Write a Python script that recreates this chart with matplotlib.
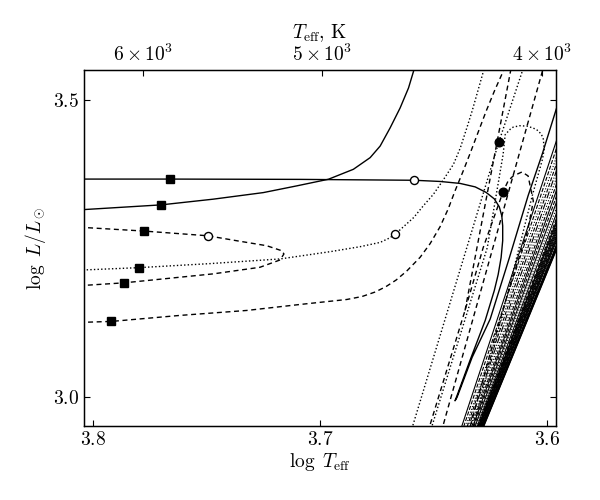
import numpy as np
import matplotlib
matplotlib.use("Agg")
import matplotlib.pyplot as plt

plt.rcParams['font.family'] = 'serif'
plt.rcParams['font.serif'] = ['cmr10']
plt.rcParams['mathtext.fontset'] = 'cm'
plt.rcParams['axes.formatter.use_mathtext'] = True
plt.rcParams['font.size'] = 14

# --- tracks (log Teff, log L) ---
# solid track: horizontal, drops to a hook and climbs again
a_x = [3.806, 3.766, 3.709, 3.6584, 3.6471, 3.6383, 3.6316, 3.6268, 3.6232,
       3.6210, 3.6199, 3.6195, 3.6195, 3.6202, 3.6215, 3.6232, 3.6272, 3.6339,
       3.6395, 3.6405, 3.6396, 3.6330, 3.6250, 3.6165, 3.6083, 3.6020, 3.5959,
       3.590]
a_y = [3.367, 3.367, 3.3665, 3.365, 3.3630, 3.3597, 3.3538, 3.3445, 3.3336,
       3.3202, 3.3050, 3.2882, 3.2630, 3.2345, 3.2059, 3.1790, 3.1286, 3.0613,
       3.003, 2.993, 2.999, 3.066, 3.131, 3.235, 3.339, 3.41, 3.485,
       3.55]

# solid track bending up to the top
b_x = [3.806, 3.7700, 3.7471, 3.7250, 3.7103, 3.6963, 3.6853, 3.6779, 3.6735,
       3.6691, 3.6647, 3.6610, 3.6588, 3.6576]
b_y = [3.3151, 3.3235, 3.3331, 3.3442, 3.3555, 3.3667, 3.3835, 3.4032, 3.4227,
       3.4534, 3.4870, 3.5207, 3.5487, 3.57]

# dashed loop on the left
c_x = [3.806, 3.7775, 3.7495, 3.7367, 3.7235, 3.7169, 3.7159, 3.7176, 3.7265,
       3.7471, 3.7863, 3.806]
c_y = [3.2858, 3.2793, 3.2714, 3.263, 3.2546, 3.2462, 3.2407, 3.2306, 3.2182,
       3.2071, 3.192, 3.1872]

# dotted track
d_x = [3.806, 3.7798, 3.7485, 3.7176, 3.6956, 3.6824, 3.6735, 3.6691, 3.6647,
       3.6587, 3.6545, 3.6500, 3.6457, 3.6412, 3.6382, 3.6353, 3.6330, 3.6309,
       3.6280, 3.6272]
d_y = [3.2134, 3.2176, 3.2244, 3.2323, 3.2445, 3.2529, 3.2602, 3.2681, 3.2815,
       3.3022, 3.3218, 3.3415, 3.3655, 3.3919, 3.4193, 3.4534, 3.4815, 3.5096,
       3.5487, 3.56]

# lowest dashed track
e_x = [3.806, 3.7919, 3.7618, 3.7323, 3.7088, 3.6882, 3.6815, 3.6757, 3.6709,
       3.6665, 3.6618, 3.6559, 3.6515, 3.6471, 3.6435, 3.6405, 3.6369, 3.6338,
       3.6303, 3.6268, 3.6232, 3.6193, 3.6179]
e_y = [3.1252, 3.1269, 3.1370, 3.1454, 3.1555, 3.1639, 3.1689, 3.1765, 3.1857,
       3.1966, 3.2118, 3.2350, 3.2580, 3.2866, 3.3168, 3.3471, 3.3807, 3.4109,
       3.4462, 3.4815, 3.5151, 3.5487, 3.5605]

# giant-branch tracks in the middle
g_x = [3.660, 3.6212, 3.6099]
g_y = [2.94, 3.4294, 3.56]

g2_x = [3.6515, 3.6263, 3.6193, 3.6184, 3.6162, 3.6149, 3.6120, 3.6087, 3.6060,
        3.6043, 3.6025, 3.6016, 3.6012, 3.6020, 3.6064, 3.6130, 3.6200, 3.6330]
g2_y = [2.94, 3.2513, 3.409, 3.442, 3.451, 3.4546, 3.457, 3.4563, 3.453,
        3.4496, 3.443, 3.4345, 3.4176, 3.40, 3.34, 3.24, 3.135, 2.94]

h_x = [3.6525, 3.6361, 3.6281, 3.6193, 3.6171, 3.6149, 3.6110, 3.6083, 3.6074,
       3.6060, 3.6085, 3.6160, 3.6245, 3.6345]
h_y = [2.94, 3.1454, 3.2513, 3.3459, 3.3639, 3.3723, 3.379, 3.3723, 3.3555,
       3.33, 3.28, 3.19, 3.08, 2.94]

i_x = [3.6466, 3.6012]
i_y = [2.94, 3.56]

j_x = [3.6361, 3.6155]
j_y = [3.1454, 3.56]

# dense bundle of tracks at the lower right (x at logL = 2.94 and 3.56)
bundle_bottom = [3.6384, 3.6375, 3.6366, 3.6360, 3.6353, 3.6346, 3.6340, 3.6335,
                 3.6331, 3.6326, 3.6322, 3.6317, 3.6314, 3.6312, 3.6311, 3.6309,
                 3.6308, 3.6306, 3.6304, 3.6302, 3.6301, 3.6299, 3.6298, 3.6296,
                 3.6295, 3.6293, 3.6292, 3.6290, 3.6289]
bundle_top = [3.5847, 3.5835, 3.5822, 3.5810, 3.5798, 3.5786, 3.5774, 3.5762,
              3.5750, 3.5738, 3.5726, 3.5714, 3.5702, 3.5696, 3.5690, 3.5684,
              3.5678, 3.5672, 3.5666, 3.5660, 3.5655, 3.5650, 3.5644, 3.5638,
              3.5633, 3.5630, 3.5627, 3.5624, 3.5622]
bundle_styles = ['-', '--', ':', '--', '-.', ':', '--', '-', '--', '-', ':', '-',
                 '--', '-', '-', '-.', '-', '-', '-', '--', '-', '-', '-', ':',
                 '-', '-', '-', '-', '-']
bundle_ylim = [2.94, 3.56]

# markers
sq_x = [3.766, 3.770, 3.7775, 3.7798, 3.7863, 3.7919]
sq_y = [3.367, 3.324, 3.2793, 3.2176, 3.192, 3.127]
oc_x = [3.7495, 3.6584, 3.6669]
oc_y = [3.2714, 3.365, 3.2748]
fc_x = [3.6212, 3.6193]
fc_y = [3.4294, 3.3459]

teff_ticks = [6000, 5000, 4000]
teff_labels = [r'$6\times10^{3}$', r'$5\times10^{3}$', r'$4\times10^{3}$']

dash = (3.6, 2.6)
dot = (1.0, 1.6)

fig = plt.figure(figsize=(6, 5), dpi=100)
ax = fig.add_axes([0.14, 0.1486, 0.7867, 0.7114])

kw = dict(color='k', lw=1.0)
ax.plot(a_x, a_y, '-', **kw)
ax.plot(b_x, b_y, '-', **kw)
ax.plot(c_x, c_y, '--', dashes=dash, **kw)
ax.plot(d_x, d_y, ':', dashes=dot, **kw)
ax.plot(e_x, e_y, '--', dashes=dash, **kw)
ax.plot(g_x, g_y, ':', dashes=dot, **kw)
ax.plot(g2_x, g2_y, ':', dashes=dot, **kw)
ax.plot(h_x, h_y, '--', dashes=dash, **kw)
ax.plot(i_x, i_y, '--', dashes=dash, **kw)
ax.plot(j_x, j_y, '--', dashes=dash, **kw)

for xb, xt, ls in zip(bundle_bottom, bundle_top, bundle_styles):
    ax.plot([xb, xt], bundle_ylim, ls=ls, color='k', lw=0.8)

ax.plot(sq_x, sq_y, 's', color='k', ms=5.4, zorder=5)
ax.plot(oc_x, oc_y, 'o', mfc='white', mec='k', mew=1.0, ms=5.8, zorder=5)
ax.plot(fc_x, fc_y, 'o', color='k', ms=6.2, zorder=5)

ax.set_xlim(3.804, 3.596)
ax.set_ylim(2.951, 3.551)
ax.set_xticks([3.8, 3.7, 3.6])
ax.set_yticks([3.0, 3.5])
ax.tick_params(direction='in', length=4, width=0.8, top=False, right=True)
ax.set_xlabel(r'$\log\ T_{\rm eff}$', labelpad=2)
ax.set_ylabel(r'$\log\ L/L_\odot$')
for sp in ax.spines.values():
    sp.set_linewidth(1.0)

top = ax.twiny()
top.set_xlim(ax.get_xlim())
top.set_xticks(np.log10(teff_ticks))
top.set_xticklabels(teff_labels)
top.tick_params(direction='in', length=4, width=0.8)
top.set_xlabel(r'$T_{\rm eff}$, K', labelpad=4)

fig.savefig('out.png', dpi=100)
